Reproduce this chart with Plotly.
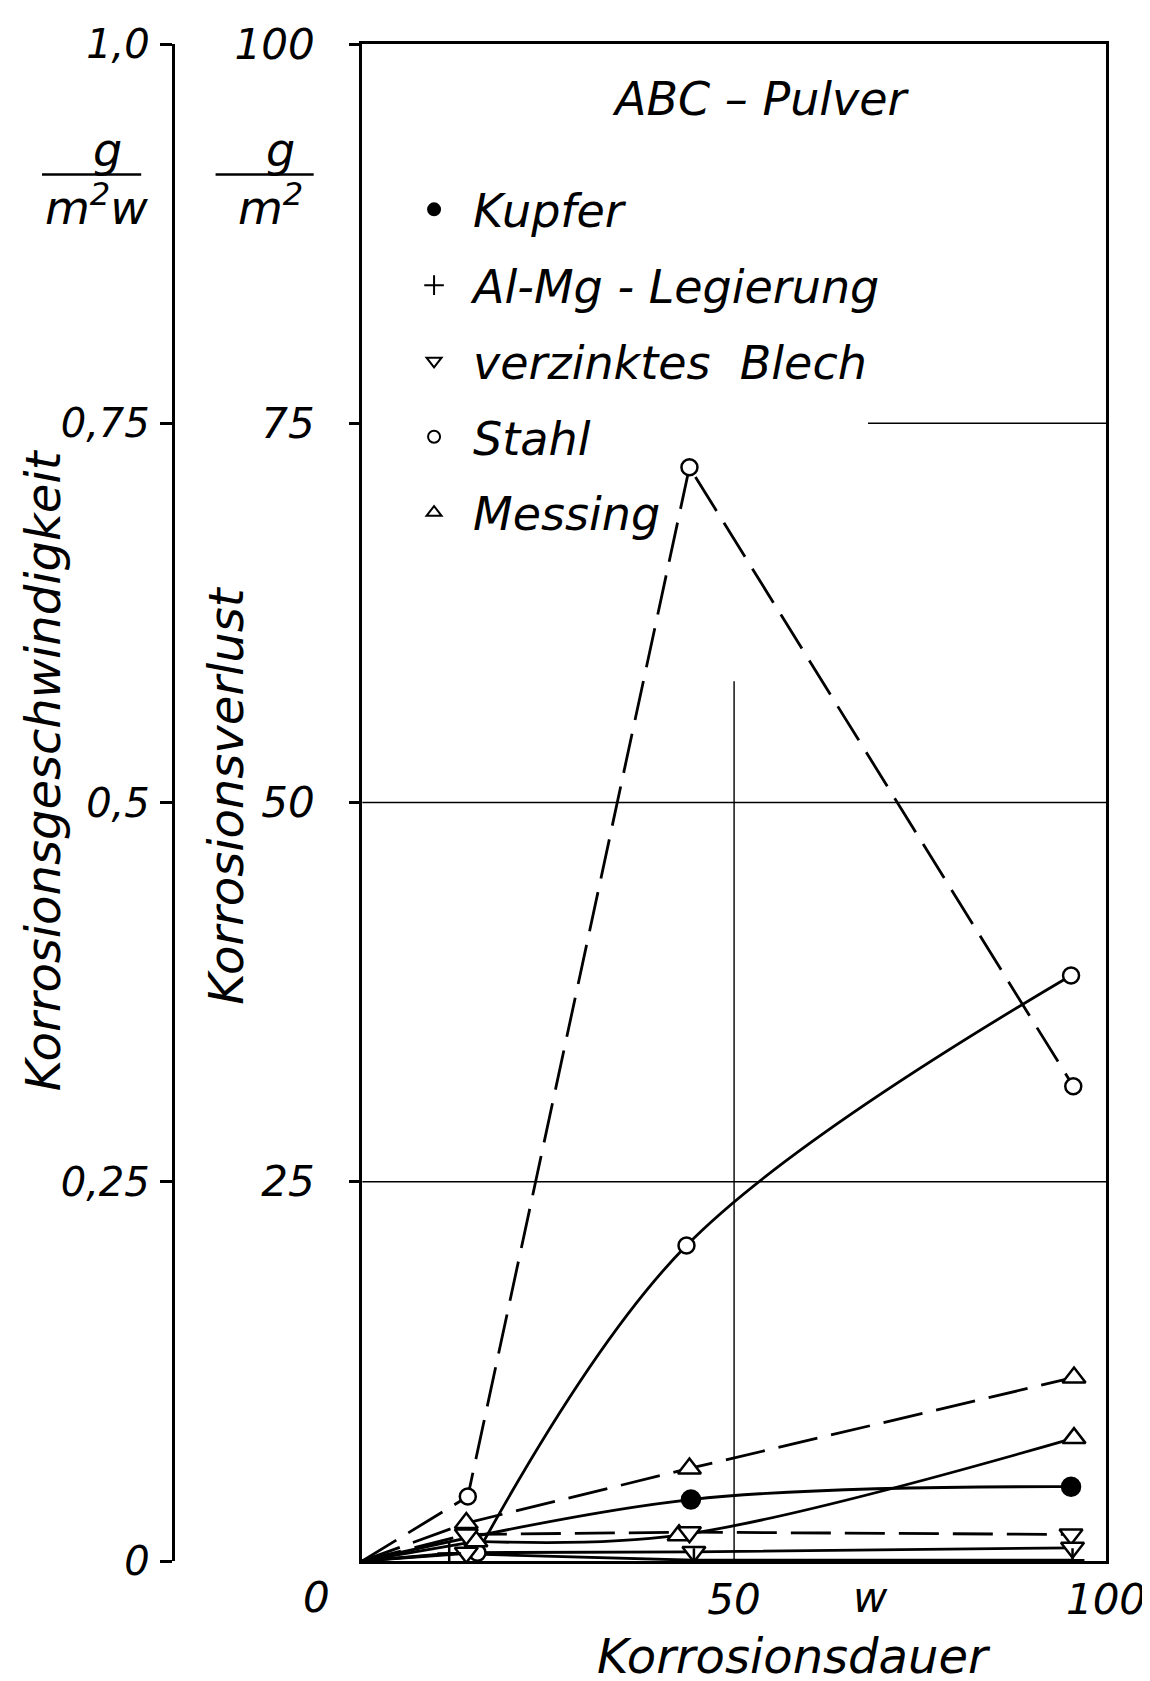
import plotly.graph_objects as go

# ---------------- data ----------------
# Korrosionsdauer in weeks (w), Korrosionsverlust in g/m2
stahl_dash_x = [0, 14.2, 44.0, 95.6]
stahl_dash_y = [0, 4.25, 72.1, 31.3]
stahl_solid_x = [0, 15.5, 43.6, 95.3]
stahl_solid_y = [0, 0.55, 20.8, 38.6]

messing_dash_x = [0, 14.0, 44.0, 95.7]
messing_dash_y = [0, 2.5, 6.1, 12.1]
messing_solid_x = [0, 15.3, 42.6, 95.7]
messing_solid_y = [0, 1.3, 1.7, 8.1]

kupfer_x = [0, 44.2, 95.3]
kupfer_y = [0, 4.05, 4.9]

zink_dash_x = [0, 14.0, 44.0, 95.3]
zink_dash_y = [0, 1.75, 1.9, 1.75]
zink_solid_x = [0, 14.0, 44.6, 95.5]
zink_solid_y = [0, 0.55, 0.6, 0.87]

almg_x = [0, 11.7, 44.6, 95.5]
almg_y = [0, 0.5, 0.05, 0.05]

legend_names = ["Kupfer", "Al-Mg - Legierung", "verzinktes  Blech", "Stahl", "Messing"]

y_tickvals = [25, 50, 75, 100]
y_ticktext = ["25", "50", "75", "100"]
y2_tickvals = [0, 0.25, 0.5, 0.75, 1.0]
y2_ticktext = ["0", "0,25", "0,5", "0,75", "1,0"]
x_tickvals = [50, 100]
x_ticktext = ["50", "100"]

grid_full_y = [25, 50]
grid_part_y = 75
grid_part_y_start = 68
grid_x = 50
grid_x_top = 58

# ---------------- styling ----------------
FONT = "DejaVu Sans"
BIG = 46
TITLE = 48
TICK = 42
LW = 2.8
DASH = "40px,14px"


def fnt(size=BIG):
    return dict(family=FONT, size=size, color="black", style="italic")


fig = go.Figure()

# (x, y, curve shape, dash, marker symbol, marker size, marker fill)
series = [
    (stahl_dash_x, stahl_dash_y, "linear", DASH, "circle", 16, "white"),
    (stahl_solid_x, stahl_solid_y, "spline", "solid", "circle", 16, "white"),
    (messing_dash_x, messing_dash_y, "linear", DASH, "triangle-up", 20, "white"),
    (messing_solid_x, messing_solid_y, "spline", "solid", "triangle-up", 20, "white"),
    (kupfer_x, kupfer_y, "spline", "solid", "circle", 18, "black"),
    (zink_dash_x, zink_dash_y, "linear", DASH, "triangle-down", 20, "white"),
    (zink_solid_x, zink_solid_y, "linear", "solid", "triangle-down", 20, "white"),
    (almg_x, almg_y, "linear", "solid", "cross-thin", 17, "black"),
]

# lines first
for xs, ys, shape, dash, sym, size, fill in series:
    line = dict(color="black", width=LW, dash=dash)
    if shape == "spline" and len(xs) > 3:
        # straight run-in from the origin, smooth curve through the measured points
        fig.add_trace(go.Scatter(x=xs[:2], y=ys[:2], mode="lines", showlegend=False,
                                 hoverinfo="skip", line=line))
        fig.add_trace(go.Scatter(x=xs[1:], y=ys[1:], mode="lines", showlegend=False,
                                 hoverinfo="skip",
                                 line=dict(line, shape="spline", smoothing=1.0)))
    else:
        fig.add_trace(go.Scatter(x=xs, y=ys, mode="lines", showlegend=False,
                                 hoverinfo="skip",
                                 line=dict(line, shape=shape, smoothing=1.0)))
# markers on top (origin has no marker)
for xs, ys, shape, dash, sym, size, fill in series:
    fig.add_trace(go.Scatter(
        x=xs[1:], y=ys[1:], mode="markers", showlegend=False,
        marker=dict(symbol=sym, size=size, color=fill,
                    line=dict(color="black", width=2.5)),
    ))

# legend entries
legend_syms = [
    ("circle", 12, "black"),
    ("cross-thin", 14, "black"),
    ("triangle-down", 13, "white"),
    ("circle", 12, "white"),
    ("triangle-up", 13, "white"),
]
for i, (name, (sym, size, fill)) in enumerate(zip(legend_names, legend_syms)):
    fig.add_trace(go.Scatter(
        x=[None], y=[None], mode="markers", name=name, legendgroup=f"g{i}",
        marker=dict(symbol=sym, size=size, color=fill,
                    line=dict(color="black", width=2)),
    ))

# dummy trace so the secondary (rate) axis is drawn
fig.add_trace(go.Scatter(x=[None], y=[None], yaxis="y2", showlegend=False,
                         mode="markers", hoverinfo="skip"))

shapes = []
for gy in grid_full_y:
    shapes.append(dict(type="line", xref="x", yref="y", x0=0, x1=100, y0=gy, y1=gy,
                       line=dict(color="black", width=1.4), layer="below"))
shapes.append(dict(type="line", xref="x", yref="y", x0=grid_part_y_start, x1=100,
                   y0=grid_part_y, y1=grid_part_y,
                   line=dict(color="black", width=1.4), layer="below"))
shapes.append(dict(type="line", xref="x", yref="y", x0=grid_x, x1=grid_x, y0=0, y1=grid_x_top,
                   line=dict(color="black", width=1.4), layer="below"))
# fraction bars of the unit labels
shapes.append(dict(type="line", xref="paper", yref="paper", x0=0.013, x1=0.105,
                   y0=0.914, y1=0.914, line=dict(color="black", width=2.5)))
shapes.append(dict(type="line", xref="paper", yref="paper", x0=0.174, x1=0.265,
                   y0=0.914, y1=0.914, line=dict(color="black", width=2.5)))

annotations = [
    dict(text="ABC – Pulver", x=0.680, y=0.964, xref="paper", yref="paper",
         showarrow=False, font=fnt(BIG), xanchor="center", yanchor="middle"),
    dict(text="g", x=0.074, y=0.930, xref="paper", yref="paper",
         showarrow=False, font=fnt(BIG), xanchor="center", yanchor="middle"),
    dict(text="m<sup>2</sup>w", x=0.064, y=0.894, xref="paper", yref="paper",
         showarrow=False, font=fnt(BIG), xanchor="center", yanchor="middle"),
    dict(text="g", x=0.234, y=0.930, xref="paper", yref="paper",
         showarrow=False, font=fnt(BIG), xanchor="center", yanchor="middle"),
    dict(text="m<sup>2</sup>", x=0.225, y=0.894, xref="paper", yref="paper",
         showarrow=False, font=fnt(BIG), xanchor="center", yanchor="middle"),
    dict(text="Korrosionsgeschwindigkeit", x=0.0135, y=0.521, xref="paper", yref="paper",
         showarrow=False, font=fnt(TITLE), textangle=-90, xanchor="center", yanchor="middle"),
    dict(text="Korrosionsverlust", x=0.1836, y=0.505, xref="paper", yref="paper",
         showarrow=False, font=fnt(TITLE), textangle=-90, xanchor="center", yanchor="middle"),
    dict(text="Korrosionsdauer", x=0.711, y=-0.0826, xref="paper", yref="paper",
         showarrow=False, font=fnt(48), xanchor="center", yanchor="bottom"),
    dict(text="0", x=0.2673, y=-0.0243, xref="paper", yref="paper",
         showarrow=False, font=fnt(TICK), xanchor="center", yanchor="middle"),
    dict(text="w", x=0.782, y=-0.0243, xref="paper", yref="paper",
         showarrow=False, font=fnt(TICK), xanchor="center", yanchor="middle"),
]

fig.update_layout(
    width=1150, height=1681,
    margin=dict(l=20, r=43, t=28, b=128),
    paper_bgcolor="white", plot_bgcolor="white",
    font=fnt(BIG),
    xaxis=dict(domain=[0.31, 1], range=[0, 100], showline=True, mirror=True,
               linewidth=3, linecolor="black", ticks="", tickvals=x_tickvals,
               ticktext=x_ticktext, tickfont=fnt(TICK), showgrid=False,
               zeroline=False, ticklabelstandoff=0),
    yaxis=dict(range=[0, 100], showline=True, mirror=True, linewidth=3,
               linecolor="black", ticks="outside", ticklen=10, tickwidth=2.5,
               tickcolor="black", tickvals=y_tickvals, ticktext=y_ticktext,
               tickfont=fnt(TICK), showgrid=False, zeroline=False,
               ticklabelstandoff=26),
    yaxis2=dict(overlaying="y", anchor="free", position=0.1343, side="left",
                range=[0, 1], showline=True, linewidth=3, linecolor="black",
                ticks="outside", ticklen=12, tickwidth=2.5, tickcolor="black",
                tickvals=y2_tickvals, ticktext=y2_ticktext, tickfont=fnt(40),
                showgrid=False, zeroline=False, ticklabelstandoff=2),
    legend=dict(x=0.3405, y=0.915, xanchor="left", yanchor="top",
                bgcolor="rgba(0,0,0,0)", font=fnt(BIG), tracegroupgap=13,
                itemwidth=68),
    shapes=shapes,
    annotations=annotations,
    showlegend=True,
)

fig.write_html("out.html")
